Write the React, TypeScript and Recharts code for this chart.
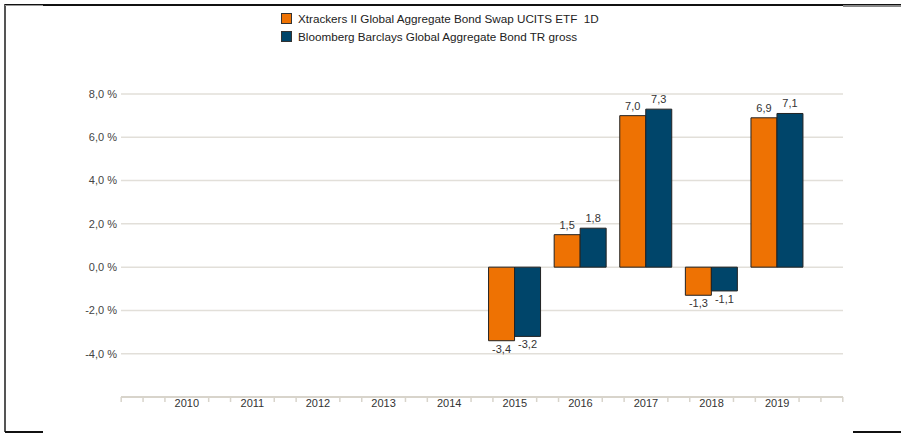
import { BarChart, Bar, XAxis, YAxis, CartesianGrid, LabelList } from "recharts";

const years = ["2010", "2011", "2012", "2013", "2014", "2015", "2016", "2017", "2018", "2019"];
const etfValues = [null, null, null, null, null, -3.4, 1.5, 7.0, -1.3, 6.9];
const indexValues = [null, null, null, null, null, -3.2, 1.8, 7.3, -1.1, 7.1];
const yTicks = [-4, -2, 0, 2, 4, 6, 8];

const seriesNames = [
    "Xtrackers II Global Aggregate Bond Swap UCITS ETF  1D",
    "Bloomberg Barclays Global Aggregate Bond TR gross",
];

const ORANGE = "#ee7203";
const BLUE = "#00456a";
const FONT = "'Liberation Sans', Arial, sans-serif";

const W = 901;
const H = 433;
const PLOT_LEFT = 121;
const PLOT_RIGHT = 843;
const PAD = 33;
const band = (PLOT_RIGHT - PLOT_LEFT - 2 * PAD) / years.length;

const data = years.map((year, i) => ({
    year,
    etf: etfValues[i],
    index: indexValues[i],
}));

const fmt = (v: number) => v.toFixed(1).replace(".", ",");

const XTick = (props: any) => {
    const { x, y, payload, index } = props;
    const offsets = [-band / 3, band / 3];
    if (index === 0) offsets.push(-band, -(2 * band) / 3);
    if (index === years.length - 1) offsets.push(band, (2 * band) / 3);
    return (
        <g>
            {offsets.map((o, i) => (
                <line key={i} x1={x + o} x2={x + o} y1={y} y2={y + 5} stroke="#d8d4cb" strokeWidth={1.5} />
            ))}
            <text x={x} y={y + 10} textAnchor="middle" fontSize={11} fill="#333" fontFamily={FONT}>
                {payload.value}
            </text>
        </g>
    );
};

const ValueLabel = (props: any) => {
    const { x, y, width, height, value } = props;
    if (value === null || value === undefined) return null;
    const top = Math.min(y, y + height);
    const bottom = Math.max(y, y + height);
    const cx = x + width / 2;
    const ty = value >= 0 ? top - 6 : bottom + 12;
    return (
        <text x={cx} y={ty} textAnchor="middle" fontSize={11} fill="#333" fontFamily={FONT}>
            {fmt(value)}
        </text>
    );
};

const LegendBox = () => (
    <div style={{ position: "absolute", left: 281, top: 9, fontFamily: FONT, fontSize: 11.7, color: "#222" }}>
        {seriesNames.map((name, i) => (
            <div key={name} style={{ display: "flex", alignItems: "center", height: 18 }}>
                <span
                    style={{
                        display: "inline-block",
                        width: 9,
                        height: 9,
                        background: i === 0 ? ORANGE : BLUE,
                        border: "1px solid #333",
                        marginRight: 6,
                    }}
                />
                <span style={{ whiteSpace: "pre" }}>{name}</span>
            </div>
        ))}
    </div>
);

const App = () => {
    return (
        <div style={{ position: "absolute", left: 0, top: 0, width: W, height: H, background: "#fff" }}>
            {/* frame bits */}
            <div style={{ position: "absolute", left: 4, top: 4, width: 2, height: 428, background: "#555" }} />
            <div style={{ position: "absolute", left: 5, top: 4, width: 896, height: 1.5, background: "#111" }} />
            <div style={{ position: "absolute", left: 5, top: 5, width: 38, height: 1, background: "#999" }} />
            <div style={{ position: "absolute", left: 843, top: 5, width: 58, height: 1.5, background: "#888" }} />
            <div style={{ position: "absolute", left: 5, top: 431, width: 38, height: 1.5, background: "#111" }} />
            <div style={{ position: "absolute", left: 853, top: 431, width: 48, height: 1.5, background: "#111" }} />
            <LegendBox />
            <BarChart
                width={W}
                height={H}
                data={data}
                margin={{ top: 94, right: W - PLOT_RIGHT, bottom: 6, left: PLOT_LEFT - 60 }}
                barCategoryGap="10%"
                barGap={0}
            >
                <CartesianGrid vertical={false} stroke="#e2dfd9" strokeWidth={1.5} />
                <XAxis
                    dataKey="year"
                    height={30}
                    padding={{ left: PAD, right: PAD }}
                    axisLine={{ stroke: "#d8d4cb", strokeWidth: 2 }}
                    tickLine={false}
                    tickSize={0}
                    tickMargin={0}
                    interval={0}
                    tick={<XTick />}
                />
                <YAxis
                    width={60}
                    domain={[-6, 8]}
                    ticks={yTicks}
                    allowDataOverflow
                    axisLine={false}
                    tickLine={false}
                    tickSize={4}
                    tickMargin={0}
                    tickFormatter={(v: number) => `${fmt(v)} %`}
                    tick={{ fontSize: 11, fill: "#444", fontFamily: FONT }}
                />
                <Bar dataKey="etf" fill={ORANGE} stroke="#222" strokeWidth={1} isAnimationActive={false}>
                    <LabelList dataKey="etf" content={<ValueLabel />} />
                </Bar>
                <Bar dataKey="index" fill={BLUE} stroke="#222" strokeWidth={1} isAnimationActive={false}>
                    <LabelList dataKey="index" content={<ValueLabel />} />
                </Bar>
            </BarChart>
        </div>
    );
};

export default App;
